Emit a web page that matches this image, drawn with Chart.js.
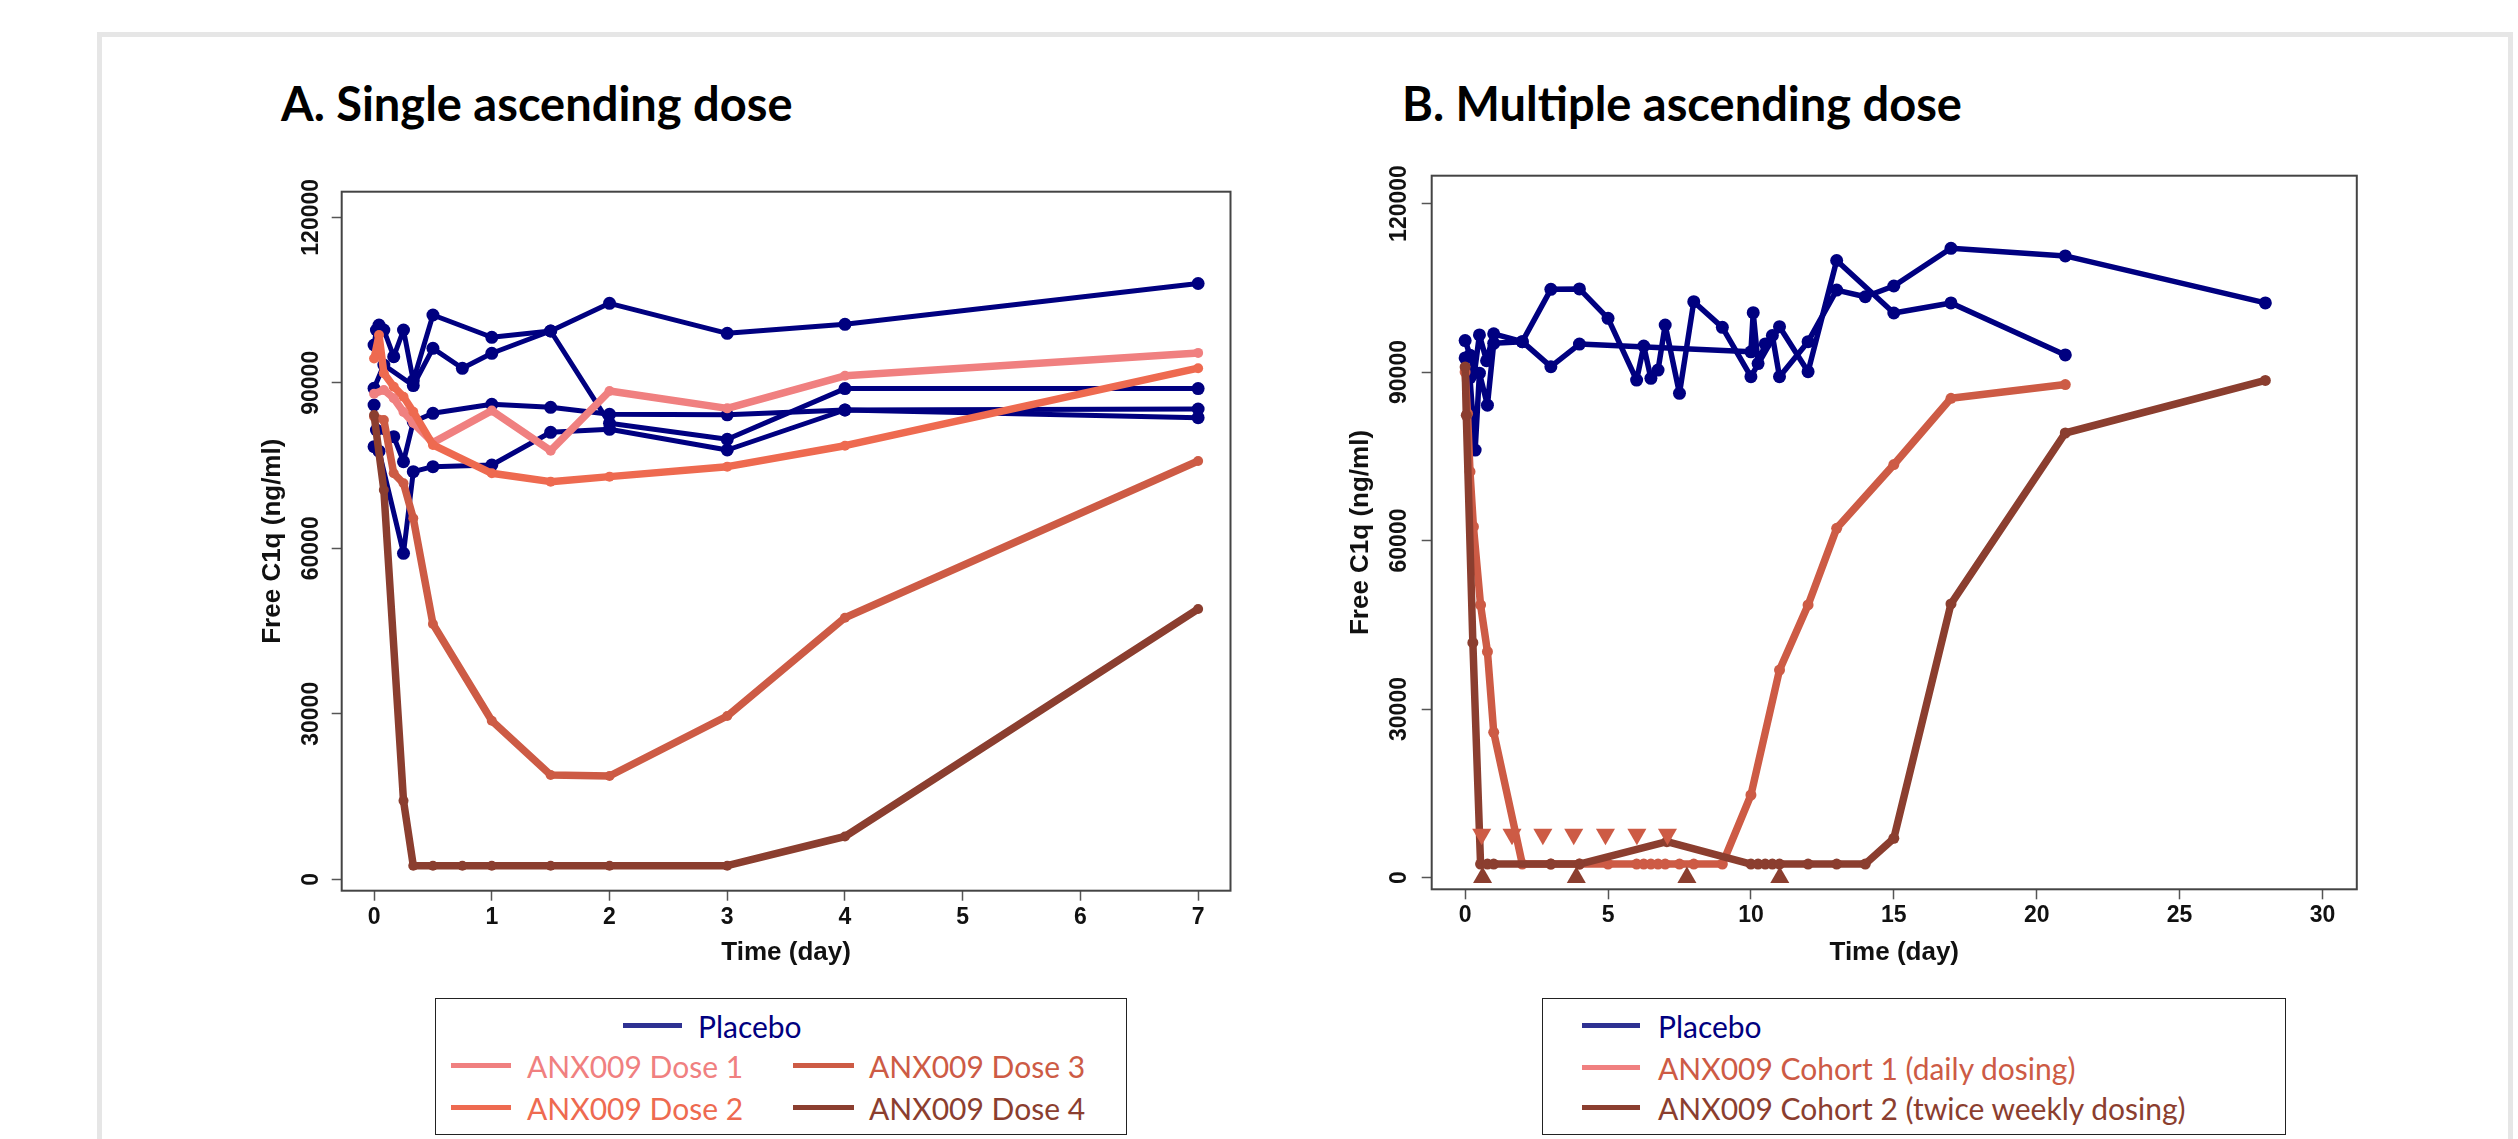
<!DOCTYPE html>
<html>
<head>
<meta charset="utf-8">
<script src="https://cdn.jsdelivr.net/npm/chart.js@4.4.1/dist/chart.umd.min.js"></script>
<style>
  html, body { margin: 0; padding: 0; background: #fff; }
  body { width: 2518px; height: 1139px; position: relative; overflow: hidden; }
  .frame { position: absolute; left: 97px; top: 32px; width: 2406px; height: 1200px; border: 5px solid #e6e6e6; }
  canvas { position: absolute; }
  .title { position: absolute; top: 80px; font-family: Lato, sans-serif; font-weight: bold; font-size: 47px; line-height: 1; color: #000; white-space: nowrap; }
  .legend { position: absolute; box-sizing: border-box; border: 1.5px solid #222; background: #fff; }
  .sw { position: absolute; height: 5px; }
  .lt { position: absolute; font-family: Lato, sans-serif; font-size: 30px; line-height: 40px; white-space: nowrap; }
</style>
</head>
<body>
<div class="frame"></div>
<div class="title" style="left:281px">A. Single ascending dose</div>
<div class="title" style="left:1402px">B. Multiple ascending dose</div>
<canvas id="chartA" width="1070" height="840" style="left:200px; top:150px"></canvas>
<canvas id="chartB" width="1100" height="850" style="left:1300px; top:140px"></canvas>

<div class="legend" style="left:435px; top:998px; width:692px; height:137px"></div>
<div class="sw" style="left:623px; top:1023px; width:59px; background:#2e3192"></div>
<div class="lt" style="left:698px; top:1006px; color:#000080">Placebo</div>
<div class="sw" style="left:451px; top:1063px; width:60px; background:#f08080"></div>
<div class="lt" style="left:527px; top:1046px; color:#f08080">ANX009 Dose 1</div>
<div class="sw" style="left:793px; top:1063px; width:61px; background:#cd5b45"></div>
<div class="lt" style="left:869px; top:1046px; color:#cd5b45">ANX009 Dose 3</div>
<div class="sw" style="left:451px; top:1105px; width:60px; background:#ee6a50"></div>
<div class="lt" style="left:527px; top:1088px; color:#ee6a50">ANX009 Dose 2</div>
<div class="sw" style="left:793px; top:1105px; width:61px; background:#8b3e2f"></div>
<div class="lt" style="left:869px; top:1088px; color:#8b3e2f">ANX009 Dose 4</div>

<div class="legend" style="left:1542px; top:998px; width:744px; height:137px"></div>
<div class="sw" style="left:1582px; top:1023px; width:58px; background:#2e3192"></div>
<div class="lt" style="left:1658px; top:1006px; color:#000080">Placebo</div>
<div class="sw" style="left:1582px; top:1065px; width:58px; background:#f08080"></div>
<div class="lt" style="left:1658px; top:1048px; color:#cd5b45">ANX009 Cohort 1 (daily dosing)</div>
<div class="sw" style="left:1582px; top:1105px; width:58px; background:#8b3e2f"></div>
<div class="lt" style="left:1658px; top:1088px; color:#8b3e2f">ANX009 Cohort 2 (twice weekly dosing)</div>

<script>
// ---- Panel A: single ascending dose (time in days, free C1q in ng/ml) ----
const aPlacebo1Time = [0, 0.02, 0.042, 0.083, 0.167, 0.25, 0.333, 0.5, 1, 1.5, 2, 3, 4, 7];
const aPlacebo1Free = [96850, 99570, 100480, 99570, 94730, 99570, 90380, 102290, 98250, 99390, 104400, 98970, 100600, 108000];
const aPlacebo2Time = [0, 0.083, 0.333, 0.5, 0.75, 1, 1.5, 2, 3, 4, 7];
const aPlacebo2Free = [89000, 93230, 89500, 96250, 92630, 95350, 99390, 82660, 79760, 88950, 88950];
const aPlacebo3Time = [0, 0.02, 0.167, 0.25, 0.333, 0.5, 1, 1.5, 2, 3, 4, 7];
const aPlacebo3Free = [85980, 81440, 80230, 75700, 82950, 84470, 86100, 85560, 84290, 84200, 85070, 85250];
const aPlacebo4Time = [0, 0.042, 0.25, 0.333, 0.5, 1, 1.5, 2, 3, 4, 7];
const aPlacebo4Free = [78420, 77600, 59090, 73890, 74800, 75100, 81030, 81570, 77820, 85070, 83670];

const aDose1Time = [0, 0.083, 0.167, 0.25, 0.333, 0.5, 1, 1.5, 2, 3, 4, 7];
const aDose1Free = [88000, 88700, 87200, 84700, 82700, 79150, 84960, 77700, 88510, 85370, 91270, 95420];
const aDose2Time = [0, 0.042, 0.083, 0.167, 0.25, 0.333, 0.5, 1, 1.5, 2, 3, 4, 7];
const aDose2Free = [94400, 98660, 91720, 89300, 87480, 84760, 78730, 73590, 72080, 72990, 74800, 78600, 92650];
const aDose3Time = [0, 0.083, 0.167, 0.25, 0.333, 0.5, 1, 1.5, 2, 3, 4, 7];
const aDose3Free = [83860, 83260, 73590, 71780, 65440, 46280, 28750, 18900, 18730, 29600, 47420, 75820];
const aDose4Time = [0, 0.083, 0.25, 0.333, 0.5, 0.75, 1, 1.5, 2, 3, 4, 7];
const aDose4Free = [84160, 70570, 14250, 2470, 2470, 2470, 2470, 2470, 2470, 2470, 7760, 49000];

// ---- Panel B: multiple ascending dose ----
const bPlacebo1Time = [0, 0.17, 0.33, 0.5, 0.75, 1, 2, 3, 4, 5, 6, 6.25, 6.5, 6.75, 7, 7.5, 8, 9, 10, 11, 12, 13, 15, 17, 21];
const bPlacebo1Free = [95600, 93000, 90000, 96600, 92000, 96800, 95400, 104720, 104800, 99550, 88570, 94630, 88870, 90350, 98370, 86200, 102520, 97950, 89170, 98070, 90060, 109850, 100500, 102300, 93040];
const bPlacebo2Time = [0, 0.17, 0.35, 0.5, 0.78, 1, 2, 3, 4, 10, 10.08, 10.25, 10.5, 10.75, 11, 12, 13, 14, 15, 17, 21, 28];
const bPlacebo2Free = [92500, 89000, 76100, 89800, 84100, 95100, 95400, 90950, 94980, 93600, 100560, 91500, 95000, 96500, 89170, 95400, 104580, 103400, 105310, 112020, 110670, 102300];

const bCohort1Time = [0, 0.083, 0.17, 0.29, 0.54, 0.78, 1, 2, 3, 4, 5, 6, 6.25, 6.5, 6.75, 7, 7.5, 8, 9, 10, 11, 12, 13, 15, 17, 21];
const bCohort1Free = [90000, 82600, 72250, 62460, 48520, 40210, 25850, 2400, 2400, 2400, 2400, 2400, 2400, 2400, 2400, 2400, 2400, 2400, 2400, 14690, 36940, 48520, 62170, 73510, 85320, 87770];
const bCohort2Time = [0, 0.04, 0.27, 0.54, 0.78, 1, 3, 4, 7.06, 10, 10.25, 10.5, 10.75, 11, 12, 13, 14, 15, 17, 21, 28];
const bCohort2Free = [90900, 82300, 41810, 2400, 2400, 2400, 2400, 2400, 6380, 2400, 2400, 2400, 2400, 2400, 2400, 2400, 2400, 6970, 48710, 79140, 88500];

// dosing markers
const bCohort1DoseTime = [0.58, 1.64, 2.72, 3.8, 4.91, 6.01, 7.08];
const bCohort1DoseLevel = [7700, 7700, 7700, 7700, 7700, 7700, 7700];
const bCohort2DoseTime = [0.61, 3.89, 7.76, 11.01];
const bCohort2DoseLevel = [0, 0, 0, 0];

// ticks
const aTimeTicks = [0, 1, 2, 3, 4, 5, 6, 7];
const bTimeTicks = [0, 5, 10, 15, 20, 25, 30];
const freeTicks = [0, 30000, 60000, 90000, 120000];

const NAVY = '#000080';
const DOSE1 = '#f08080';
const DOSE2 = '#ee6a50';
const DOSE3 = '#cd5b45';
const DOSE4 = '#8b3e2f';
const AXIS_FONT = "'Liberation Sans', Arial, sans-serif";

function toPoints(times, values) {
    return times.map((t, i) => ({ x: t, y: values[i] }));
}

function line(times, values, color, width, radius) {
    return {
        data: toPoints(times, values),
        borderColor: color,
        backgroundColor: color,
        pointBackgroundColor: color,
        pointBorderWidth: 0,
        borderWidth: width,
        pointRadius: radius,
        borderJoinStyle: 'round',
        borderCapStyle: 'round',
        tension: 0
    };
}

function markers(times, values, color, rotation) {
    return {
        data: toPoints(times, values),
        showLine: false,
        pointStyle: 'triangle',
        pointRotation: rotation,
        pointRadius: 11,
        pointBorderWidth: 0,
        pointBackgroundColor: color,
        backgroundColor: color,
        borderColor: color
    };
}

// box around the plot region, like R's box()
const boxPlugin = {
    id: 'plotBox',
    afterDraw(chart) {
        const { ctx, chartArea: a } = chart;
        ctx.save();
        ctx.strokeStyle = '#444';
        ctx.lineWidth = 2;
        ctx.strokeRect(a.left, a.top, a.right - a.left, a.bottom - a.top);
        ctx.restore();
    }
};

function makeChart(id, opt) {
    const tickGrid = { drawOnChartArea: false, drawTicks: true, tickLength: 10, tickColor: '#555', tickWidth: 1.5 };
    const tickFont = { family: AXIS_FONT, weight: 'bold', size: 23 };
    const titleFont = { family: AXIS_FONT, weight: 'bold', size: 26 };

    return new Chart(document.getElementById(id), {
        type: 'line',
        data: { datasets: opt.datasets },
        options: {
            responsive: false,
            animation: false,
            events: [],
            layout: { padding: { left: 0, bottom: 0, top: opt.padTop, right: opt.padRight } },
            plugins: { legend: { display: false }, tooltip: { enabled: false } },
            scales: {
                x: {
                    type: 'linear',
                    min: opt.xMin,
                    max: opt.xMax,
                    afterBuildTicks: s => { s.ticks = opt.xTicks.map(v => ({ value: v })); },
                    afterFit: s => { s.height = opt.xHeight; },
                    grid: tickGrid,
                    border: { display: false },
                    ticks: { font: tickFont, color: '#111', padding: 3, maxRotation: 0, autoSkip: false, callback: v => String(v) },
                    title: { display: true, text: 'Time (day)', font: titleFont, color: '#111', padding: { top: 0, bottom: 21.4 } }
                },
                y: {
                    type: 'linear',
                    min: opt.yMin,
                    max: opt.yMax,
                    afterBuildTicks: s => { s.ticks = freeTicks.map(v => ({ value: v })); },
                    afterFit: s => { s.width = opt.yWidth; },
                    grid: tickGrid,
                    border: { display: false },
                    ticks: { font: tickFont, color: '#111', minRotation: 90, maxRotation: 90, crossAlign: 'center', padding: opt.yTickPad, autoSkip: false, callback: v => String(v) },
                    title: { display: true, text: 'Free C1q (ng/ml)', font: titleFont, color: '#111', padding: { top: opt.yTitlePad, bottom: 0 } }
                }
            }
        },
        plugins: [boxPlugin]
    });
}

makeChart('chartA', {
    datasets: [
        line(aDose4Time, aDose4Free, DOSE4, 7.5, 5),
        line(aDose3Time, aDose3Free, DOSE3, 7.5, 5),
        line(aDose2Time, aDose2Free, DOSE2, 7.5, 5),
        line(aDose1Time, aDose1Free, DOSE1, 7.5, 5),
        line(aPlacebo1Time, aPlacebo1Free, NAVY, 5, 6.5),
        line(aPlacebo2Time, aPlacebo2Free, NAVY, 5, 6.5),
        line(aPlacebo3Time, aPlacebo3Free, NAVY, 5, 6.5),
        line(aPlacebo4Time, aPlacebo4Free, NAVY, 5, 6.5)
    ],
    xMin: -0.275, xMax: 7.275, xTicks: aTimeTicks,
    yMin: -2066, yMax: 124640,
    padTop: 41.7, padRight: 39.5, yWidth: 141.7, xHeight: 99.3,
    yTickPad: -18.4, yTitlePad: 57.4
});

makeChart('chartB', {
    datasets: [
        markers(bCohort2DoseTime, bCohort2DoseLevel, DOSE4, 0),
        markers(bCohort1DoseTime, bCohort1DoseLevel, DOSE3, 180),
        line(bCohort2Time, bCohort2Free, DOSE4, 7.5, 5.5),
        line(bCohort1Time, bCohort1Free, DOSE3, 7.5, 5.5),
        line(bPlacebo1Time, bPlacebo1Free, NAVY, 5.5, 6.5),
        line(bPlacebo2Time, bPlacebo2Free, NAVY, 5.5, 6.5)
    ],
    xMin: -1.17, xMax: 31.2, xTicks: bTimeTicks,
    yMin: -2100, yMax: 124950,
    padTop: 35.7, padRight: 43.2, yWidth: 131.7, xHeight: 100.7,
    yTickPad: -16.4, yTitlePad: 45.4
});
</script>
</body>
</html>
